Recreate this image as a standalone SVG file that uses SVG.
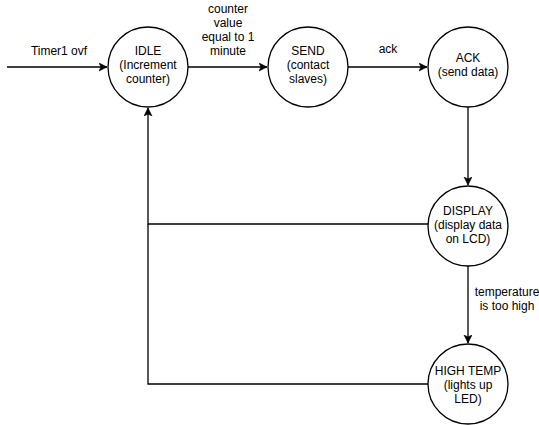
<svg xmlns="http://www.w3.org/2000/svg" width="539" height="425" viewBox="0 0 539 425">
<defs>
<style>
.n{fill:#fff;stroke:#000;stroke-width:1.3}
.e{fill:none;stroke:#000;stroke-width:1.3}
text{font-family:"Liberation Sans",Arial,sans-serif;font-size:12px;fill:#000;text-anchor:middle}
</style>
<marker id="a" markerWidth="10" markerHeight="10" refX="8" refY="4" orient="auto" markerUnits="userSpaceOnUse">
<path d="M0,0 L8,4 L0,8 L2,4 z" fill="#000" stroke="#000" stroke-width="0.6"/>
</marker>
</defs>
<rect width="539" height="425" fill="#fff"/>
<g id="edges">
<path class="e" d="M7,67 L107,67" marker-end="url(#a)"/>
<path class="e" d="M188,67 L267,67" marker-end="url(#a)"/>
<path class="e" d="M348,67 L427,67" marker-end="url(#a)"/>
<path class="e" d="M468,107 L468,185" marker-end="url(#a)"/>
<path class="e" d="M468,266 L468,343" marker-end="url(#a)"/>
<path class="e" d="M428,224 L148,224 L148,108" marker-end="url(#a)"/>
<path class="e" d="M428,384 L148,384 L148,224"/>
<text x="59" y="55">Timer1 ovf</text>
<text x="228" y="13">counter</text>
<text x="228" y="27">value</text>
<text x="228" y="41">equal to 1</text>
<text x="228" y="55">minute</text>
<text x="388" y="53">ack</text>
<text x="507" y="296">temperature</text>
<text x="507" y="310">is too high</text>
</g>
<g id="idle">
<circle class="n" cx="148" cy="67" r="40"/>
<text x="148" y="55">IDLE</text>
<text x="148" y="69">(Increment</text>
<text x="148" y="83">counter)</text>
</g>
<g id="send">
<circle class="n" cx="308" cy="67" r="40"/>
<text x="308" y="55">SEND</text>
<text x="308" y="69">(contact</text>
<text x="308" y="83">slaves)</text>
</g>
<g id="ack">
<circle class="n" cx="468" cy="67" r="40"/>
<text x="468" y="62">ACK</text>
<text x="468" y="76">(send data)</text>
</g>
<g id="display">
<circle class="n" cx="468" cy="226" r="40"/>
<text x="468" y="215">DISPLAY</text>
<text x="468" y="229">(display data</text>
<text x="468" y="243">on LCD)</text>
</g>
<g id="hightemp">
<circle class="n" cx="468" cy="384" r="40"/>
<text x="468" y="375">HIGH TEMP</text>
<text x="468" y="389">(lights up</text>
<text x="468" y="403">LED)</text>
</g>
</svg>
